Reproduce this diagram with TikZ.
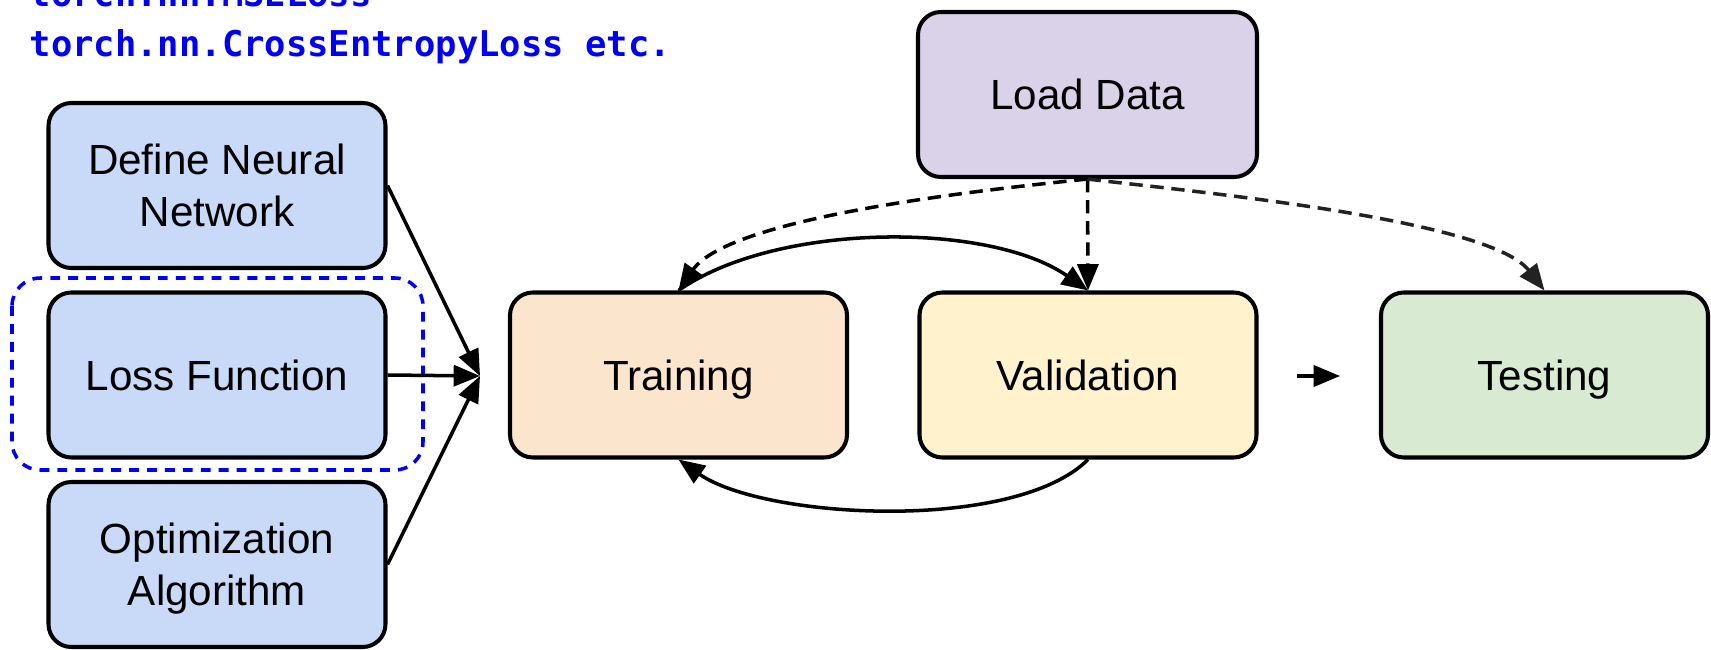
\documentclass[tikz,border=0pt]{standalone}
\usepackage{fontspec}
\setmainfont{Liberation Sans}
\newfontfamily\codefont{DejaVu Sans Mono}
\usetikzlibrary{arrows.meta}

\definecolor{setupblue}{HTML}{C9DAF8}
\definecolor{trainorange}{HTML}{FCE5CD}
\definecolor{validyellow}{HTML}{FFF2CC}
\definecolor{testgreen}{HTML}{D9EAD3}
\definecolor{datapurple}{HTML}{D9D2E9}
\definecolor{codeblue}{HTML}{0000F5}
\definecolor{darkdash}{HTML}{222222}

\tikzset{
  box/.style={draw, line width=1.15pt, rounded corners=6.5pt, inner sep=0pt,
    minimum width=3.37cm, minimum height=1.65cm, align=center,
    text depth=0pt, font=\fontsize{12}{14.8}\selectfont},
  codetext/.style={text=codeblue, inner sep=0pt, anchor=base west,
    font=\codefont\bfseries\fontsize{10.1}{13.9}\selectfont},
  flow/.style={line width=1pt, -{Triangle[length=7.5pt,width=6pt]}},
  dataflow/.style={flow, dash pattern=on 3.8pt off 2.2pt}
}

\begin{document}
\begin{tikzpicture}
  \useasboundingbox (0,0) rectangle (17.11,6.49);

  \node[codetext] (mseloss) at (0.29,6.42) {torch.nn.MSELoss};
  \node[codetext] (celoss) at (0.29,5.92) {torch.nn.CrossEntropyLoss etc.};

  \node[box, fill=setupblue] (network) at (2.17,4.635) {Define Neural\\Network};
  \node[box, fill=setupblue] (loss) at (2.17,2.74) {Loss Function};
  \node[box, fill=setupblue] (optim) at (2.17,0.845) {Optimization\\Algorithm};
  \draw[codeblue, line width=1pt, dash pattern=on 2.8pt off 2.3pt,
    rounded corners=8pt] (0.12,3.71) rectangle (4.23,1.79);

  \node[box, fill=trainorange] (train) at (6.785,2.74) {Training};
  \node[box, fill=validyellow] (valid) at (10.88,2.74) {Validation};
  \node[box, fill=testgreen, minimum width=3.27cm] (test) at (15.445,2.74) {Testing};
  \node[box, fill=datapurple, minimum width=3.39cm] (load) at (10.875,5.545) {Load Data};

  \coordinate (merge) at (4.80,2.73);
  \coordinate (gapstart) at (12.97,2.73);
  \coordinate (gapend) at (13.40,2.73);

  \draw[flow] (network.east) -- (merge);
  \draw[flow] (loss.east) -- (merge);
  \draw[flow] (optim.east) -- (merge);

  \draw[flow] (train.north) to[out=35, in=145, looseness=0.75] (valid.north);
  \draw[flow] (valid.south) to[out=-135, in=-35, looseness=0.65] (train.south);
  \draw[flow] (gapstart) -- (gapend);

  \draw[dataflow] (load.south) to[out=186, in=55, looseness=0.55] (train.north);
  \draw[dataflow] (load.south) -- (valid.north);
  \draw[dataflow, darkdash] (load.south) to[out=-7, in=128, looseness=0.5] (test.north);
\end{tikzpicture}
\end{document}
